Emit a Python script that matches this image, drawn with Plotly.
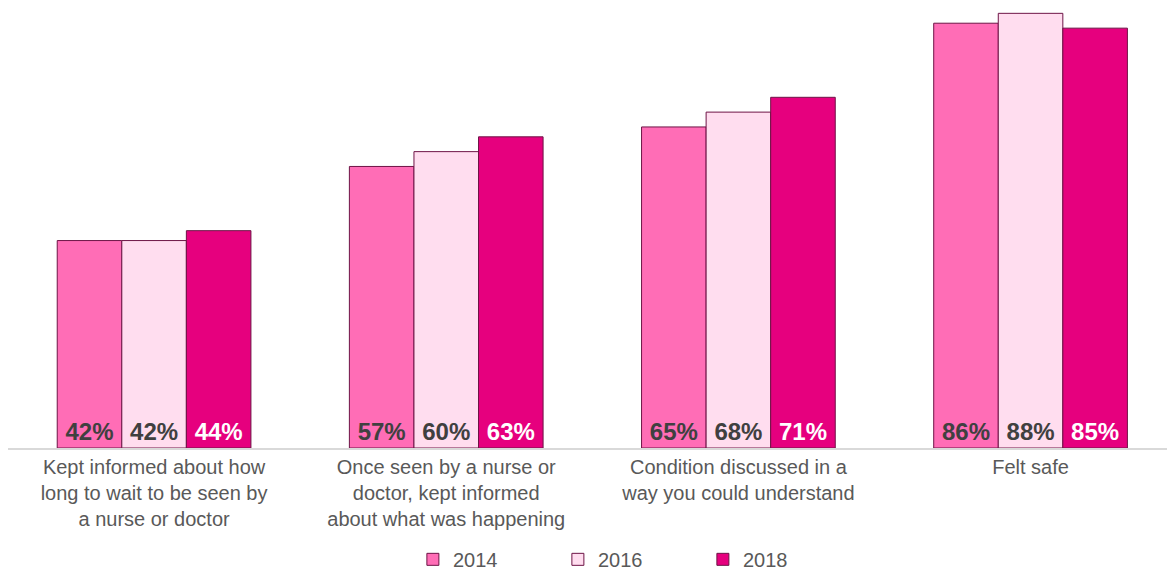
import plotly.graph_objects as go

categories = [
    "Kept informed about how<br>long to wait to be seen by<br>a nurse or doctor",
    "Once seen by a nurse or<br>doctor, kept informed<br>about what was happening",
    "Condition discussed in a<br>way you could understand",
    "Felt safe",
]
years = ["2014", "2016", "2018"]
values_2014 = [42, 57, 65, 86]
values_2016 = [42, 60, 68, 88]
values_2018 = [44, 63, 71, 85]

series = [values_2014, values_2016, values_2018]
fills = ["#FF6DB6", "#FFDDEF", "#E6007E"]
label_colors = ["#404040", "#404040", "#FFFFFF"]

fig = go.Figure()
for year, vals, fill, lc in zip(years, series, fills, label_colors):
    fig.add_trace(go.Bar(
        name=year,
        x=list(range(len(categories))),
        y=vals,
        marker=dict(color=fill, line=dict(color="#6E1446", width=1)),
        text=[f"{v}%" for v in vals],
        textposition="inside",
        insidetextanchor="start",
        textangle=0,
        constraintext="none",
        textfont=dict(family="Liberation Sans, Arial, sans-serif", size=24, color=lc),
        texttemplate="<b>%{text}</b>",
        hoverinfo="skip",
    ))

fig.update_layout(
    width=1167,
    height=574,
    margin=dict(l=8, r=0, t=0, b=126, autoexpand=False),
    paper_bgcolor="white",
    plot_bgcolor="white",
    barmode="group",
    bargap=0.337,
    bargroupgap=0,
    font=dict(family="Liberation Sans, Arial, sans-serif", color="#595959"),
    showlegend=True,
    legend=dict(
        orientation="h",
        x=0.537, xanchor="center",
        y=-0.205, yanchor="top",
        entrywidth=100,
        font=dict(size=20, color="#595959"),
        itemclick=False,
        traceorder="normal",
    ),
    xaxis=dict(
        range=[-0.5, 3.467],
        tickmode="array",
        tickvals=list(range(len(categories))),
        ticktext=categories,
        tickfont=dict(size=20, color="#595959"),
        showline=True,
        linecolor="#D9D9D9",
        linewidth=2,
        showgrid=False,
        zeroline=False,
        ticks="",
        automargin=False,
    ),
    yaxis=dict(
        range=[0, 90.7],
        visible=False,
        showgrid=False,
        zeroline=False,
    ),
)

fig.write_html("out.html")
